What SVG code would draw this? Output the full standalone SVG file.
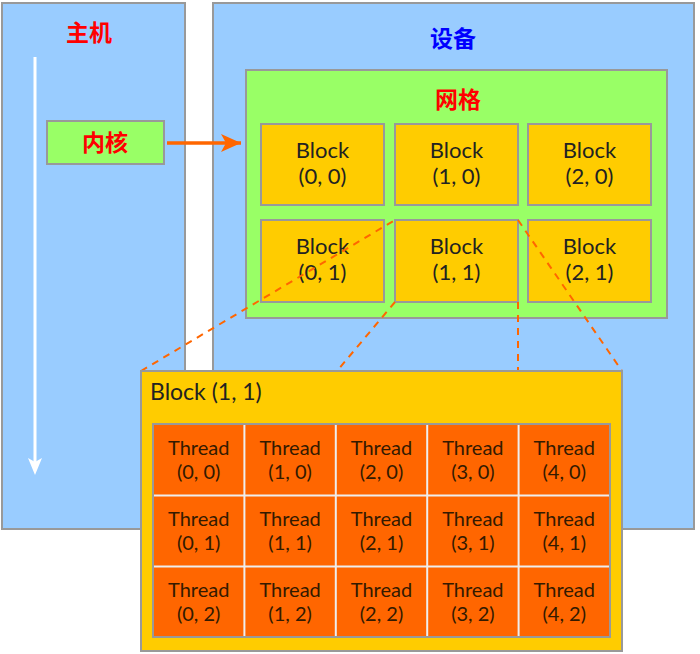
<svg xmlns="http://www.w3.org/2000/svg" width="700" height="654" viewBox="0 0 700 654">
<style>
.panel{fill:#99ccff;stroke:#999999;stroke-width:2}
.grid{fill:#99ff66;stroke:#999999;stroke-width:2}
.blk{fill:#ffcc00;stroke:#999999;stroke-width:2}
.cn{font-family:"Noto Sans CJK SC","Noto Sans",sans-serif;font-size:23px;font-weight:bold;text-anchor:middle}
.bt{font-family:Lato,"Open Sans",sans-serif;font-size:22px;fill:#222222;text-anchor:middle}
.tt{font-family:Lato,"Open Sans",sans-serif;font-size:20px;fill:#331a00;text-anchor:middle}
.dash{stroke:#ff6600;stroke-width:2;stroke-dasharray:7,6;fill:none}
</style>
<defs>
<marker id="oarr" markerWidth="20" markerHeight="18" refX="20" refY="9" orient="auto" markerUnits="userSpaceOnUse" viewBox="0 0 20 18">
<path d="M0,0 L20,9 L0,18 L5,9 Z" fill="#ff6600"/>
</marker>
</defs>
<g id="host">
<rect class="panel" x="2" y="3" width="183" height="526"/>
<text class="cn" x="89" y="41" fill="#ff0000">主机</text>
<line x1="35" y1="57" x2="35" y2="462" stroke="#ffffff" stroke-width="3"/>
<path d="M28,458 L35,475 L42,458 L35,462 Z" fill="#ffffff"/>
</g>
<g id="kernel">
<rect class="grid" x="47" y="121" width="117" height="43"/>
<text class="cn" x="105" y="151" fill="#ff0000">内核</text>
</g>
<g id="device">
<rect class="panel" x="213" y="3" width="481" height="526"/>
<text class="cn" x="453" y="47" fill="#0000ff">设备</text>
</g>
<g id="grid">
<rect class="grid" x="246" y="70" width="421" height="248"/>
<text class="cn" x="458" y="108" fill="#ff0000">网格</text>
</g>
<g id="block00"><rect class="blk" x="261" y="124" width="123" height="81"/><text class="bt" x="322.5" y="158">Block</text><text class="bt" x="322.5" y="184">(0, 0)</text></g>
<g id="block10"><rect class="blk" x="395" y="124" width="123" height="81"/><text class="bt" x="456.5" y="158">Block</text><text class="bt" x="456.5" y="184">(1, 0)</text></g>
<g id="block20"><rect class="blk" x="528" y="124" width="123" height="81"/><text class="bt" x="589.5" y="158">Block</text><text class="bt" x="589.5" y="184">(2, 0)</text></g>
<g id="block01"><rect class="blk" x="261" y="220" width="123" height="82"/><text class="bt" x="322.5" y="254">Block</text><text class="bt" x="322.5" y="280">(0, 1)</text></g>
<g id="block11"><rect class="blk" x="395" y="220" width="123" height="82"/><text class="bt" x="456.5" y="254">Block</text><text class="bt" x="456.5" y="280">(1, 1)</text></g>
<g id="block21"><rect class="blk" x="528" y="220" width="123" height="82"/><text class="bt" x="589.5" y="254">Block</text><text class="bt" x="589.5" y="280">(2, 1)</text></g>
<g id="connectors">
<line x1="167" y1="143" x2="241" y2="143" stroke="#ff6600" stroke-width="3.5" marker-end="url(#oarr)"/>
<line class="dash" x1="141" y1="371" x2="395" y2="220"/>
<line class="dash" x1="395" y1="302" x2="337" y2="371"/>
<line class="dash" x1="518" y1="302" x2="518" y2="371"/>
<line class="dash" x1="518" y1="220" x2="622" y2="371"/>
</g>
<g id="blockDetail">
<rect class="blk" x="141" y="371" width="481" height="280"/>
<text x="150" y="400" style="font-family:Lato,'Open Sans',sans-serif;font-size:23px;fill:#222222">Block (1, 1)</text>
<rect x="153" y="424" width="457" height="213" fill="#ff6600" stroke="#999999" stroke-width="2"/>
<g stroke="#eeeeee" stroke-width="2">
<line x1="244.4" y1="425" x2="244.4" y2="636"/>
<line x1="335.8" y1="425" x2="335.8" y2="636"/>
<line x1="427.2" y1="425" x2="427.2" y2="636"/>
<line x1="518.6" y1="425" x2="518.6" y2="636"/>
<line x1="154" y1="495.5" x2="609" y2="495.5"/>
<line x1="154" y1="566.5" x2="609" y2="566.5"/>
</g>
</g>
<g id="threads">
<g id="t00"><text class="tt" x="198.7" y="455">Thread</text><text class="tt" x="198.7" y="479">(0, 0)</text></g>
<g id="t10"><text class="tt" x="290.1" y="455">Thread</text><text class="tt" x="290.1" y="479">(1, 0)</text></g>
<g id="t20"><text class="tt" x="381.5" y="455">Thread</text><text class="tt" x="381.5" y="479">(2, 0)</text></g>
<g id="t30"><text class="tt" x="472.9" y="455">Thread</text><text class="tt" x="472.9" y="479">(3, 0)</text></g>
<g id="t40"><text class="tt" x="564.3" y="455">Thread</text><text class="tt" x="564.3" y="479">(4, 0)</text></g>
<g id="t01"><text class="tt" x="198.7" y="526">Thread</text><text class="tt" x="198.7" y="550">(0, 1)</text></g>
<g id="t11"><text class="tt" x="290.1" y="526">Thread</text><text class="tt" x="290.1" y="550">(1, 1)</text></g>
<g id="t21"><text class="tt" x="381.5" y="526">Thread</text><text class="tt" x="381.5" y="550">(2, 1)</text></g>
<g id="t31"><text class="tt" x="472.9" y="526">Thread</text><text class="tt" x="472.9" y="550">(3, 1)</text></g>
<g id="t41"><text class="tt" x="564.3" y="526">Thread</text><text class="tt" x="564.3" y="550">(4, 1)</text></g>
<g id="t02"><text class="tt" x="198.7" y="597">Thread</text><text class="tt" x="198.7" y="621">(0, 2)</text></g>
<g id="t12"><text class="tt" x="290.1" y="597">Thread</text><text class="tt" x="290.1" y="621">(1, 2)</text></g>
<g id="t22"><text class="tt" x="381.5" y="597">Thread</text><text class="tt" x="381.5" y="621">(2, 2)</text></g>
<g id="t32"><text class="tt" x="472.9" y="597">Thread</text><text class="tt" x="472.9" y="621">(3, 2)</text></g>
<g id="t42"><text class="tt" x="564.3" y="597">Thread</text><text class="tt" x="564.3" y="621">(4, 2)</text></g>
</g>
</svg>
